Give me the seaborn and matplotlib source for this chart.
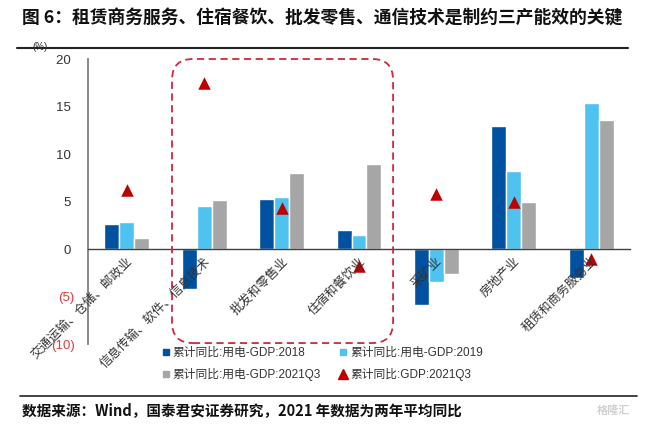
import pandas as pd
import matplotlib.pyplot as plt
import seaborn as sns
from matplotlib.patches import FancyBboxPatch
from matplotlib.lines import Line2D


categories = ['交通运输、仓储、邮政业', '信息传输、软件、信息技术', '批发和零售业',
              '住宿和餐饮业', '采矿业', '房地产业', '租赁和商务服务业']
series_names = ['累计同比:用电-GDP:2018', '累计同比:用电-GDP:2019', '累计同比:用电-GDP:2021Q3']
v2018 = [2.6, -4.2, 5.3, 2.0, -5.9, 12.9, -3.0]
v2019 = [2.8, 4.5, 5.5, 1.5, -3.5, 8.2, 15.4]
v2021 = [1.2, 5.2, 8.0, 8.9, -2.6, 4.9, 13.6]
gdp2021 = [6.2, 17.5, 4.3, -1.8, 5.8, 4.9, -1.1]
gdp_name = '累计同比:GDP:2021Q3'
yticks = [-10, -5, 0, 5, 10, 15, 20]
ytick_labels = ['(10)', '(5)', '0 ', '5 ', '10 ', '15 ', '20 ']

colors = ['#0052A0', '#4FC3F0', '#A6A6A6']
red = '#C00000'

sns.set_style('white')
plt.rcParams['font.family'] = ['Liberation Sans', 'Noto Sans CJK SC', 'DejaVu Sans']
plt.rcParams['axes.unicode_minus'] = False

df = pd.DataFrame({
    'cat': categories * 3,
    'series': [series_names[0]] * 7 + [series_names[1]] * 7 + [series_names[2]] * 7,
    'val': v2018 + v2019 + v2021,
})

fig = plt.figure(figsize=(6.5, 4.25), dpi=100)
ax = fig.add_axes([88 / 650, 81 / 425, 542 / 650, 285 / 425])

sns.barplot(data=df, x='cat', y='val', hue='series', palette=colors, width=0.58,
            gap=0, saturation=1, ax=ax, legend=False, zorder=2)
sns.stripplot(x=categories, y=gdp2021, marker='^', jitter=False, size=9,
              color=red, linewidth=0, ax=ax, zorder=4)

ax.set_xlim(-0.5, 6.5)
ax.set_ylim(-10, 20)
ax.set_xlabel('')
ax.set_ylabel('')

# y axis
ax.set_yticks(yticks)
ax.set_yticklabels(ytick_labels, fontsize=9.5)
for lab, v in zip(ax.get_yticklabels(), yticks):
    lab.set_color('#E03C3C' if v < 0 else '#333333')
ax.tick_params(axis='y', direction='out', length=4, width=1, color='#808080', pad=5.5)

for s in ['top', 'right']:
    ax.spines[s].set_visible(False)
ax.spines['left'].set_color('#808080')
ax.spines['left'].set_linewidth(1.3)
ax.spines['bottom'].set_position(('data', 0))
ax.spines['bottom'].set_color('#404040')
ax.spines['bottom'].set_linewidth(1.0)

# x axis: boundary ticks, labels rotated under zero line, drawn over bars
ax.set_xticks([i + 0.5 for i in range(7)], minor=True)
ax.tick_params(axis='x', which='minor', direction='out', length=4, color='#404040')
ax.set_xticks(range(7))
ax.set_xticklabels(categories, rotation=45, ha='right', rotation_mode='anchor',
                   fontsize=9, color='#333333')
ax.tick_params(axis='x', which='major', length=0, pad=4.5)
ax.xaxis.set_zorder(6)

# dashed highlight box
box = FancyBboxPatch((0.585, -9.9), 3.44 - 0.585, 29.9,
                     boxstyle='round,pad=0,rounding_size=0.27', mutation_aspect=8.15,
                     fill=False, edgecolor='#D0283C', linestyle=(0, (4, 2.5)),
                     linewidth=1.3, clip_on=False, zorder=5)
ax.add_patch(box)

fig.text(40 / 650, 1 - 47 / 425, '(%)', fontsize=7, color='#333333', ha='center', va='center')

# legend (two rows: 2018, 2019 / 2021Q3, GDP)
sq = [Line2D([], [], marker='s', linestyle='none', color=c, markersize=5) for c in colors]
tri = Line2D([], [], marker='^', linestyle='none', color=red, markersize=7)
handles = [sq[0], sq[2], sq[1], tri]
labels = [series_names[0], series_names[2], series_names[1], gdp_name]
fig.legend(handles, labels, ncol=2, loc='upper left', bbox_to_anchor=(162 / 650, 1 - 347 / 425),
           frameon=False, fontsize=8.5, handlelength=0.6, handletextpad=0.3,
           columnspacing=1.6, labelspacing=0.75, borderaxespad=0, borderpad=0,
           labelcolor='#333333')

# title, lines, source
fig.text(22 / 650, 1 - 18 / 425, '图 6：租赁商务服务、住宿餐饮、批发零售、通信技术是制约三产能效的关键',
         fontsize=12.8, fontweight='bold', family=['Noto Sans CJK SC'], ha='left', va='center',
         color='#111111')
fig.add_artist(Line2D([17 / 650, 628 / 650], [1 - 48 / 425] * 2, color='#222222', linewidth=1.5))
fig.add_artist(Line2D([20 / 650, 637 / 650], [1 - 396 / 425] * 2, color='#222222', linewidth=1.2))
fig.text(22 / 650, 1 - 410 / 425, '数据来源：Wind，国泰君安证券研究，2021 年数据为两年平均同比',
         fontsize=10.5, fontweight='bold', family=['Noto Sans CJK SC'], ha='left', va='center',
         color='#111111')
fig.text(630 / 650, 1 - 410 / 425, '格隆汇', fontsize=8, color='#D0D0D0', ha='right', va='center',
         family=['Noto Sans CJK SC'], fontweight='bold')

fig.savefig('out.png', dpi=100)
